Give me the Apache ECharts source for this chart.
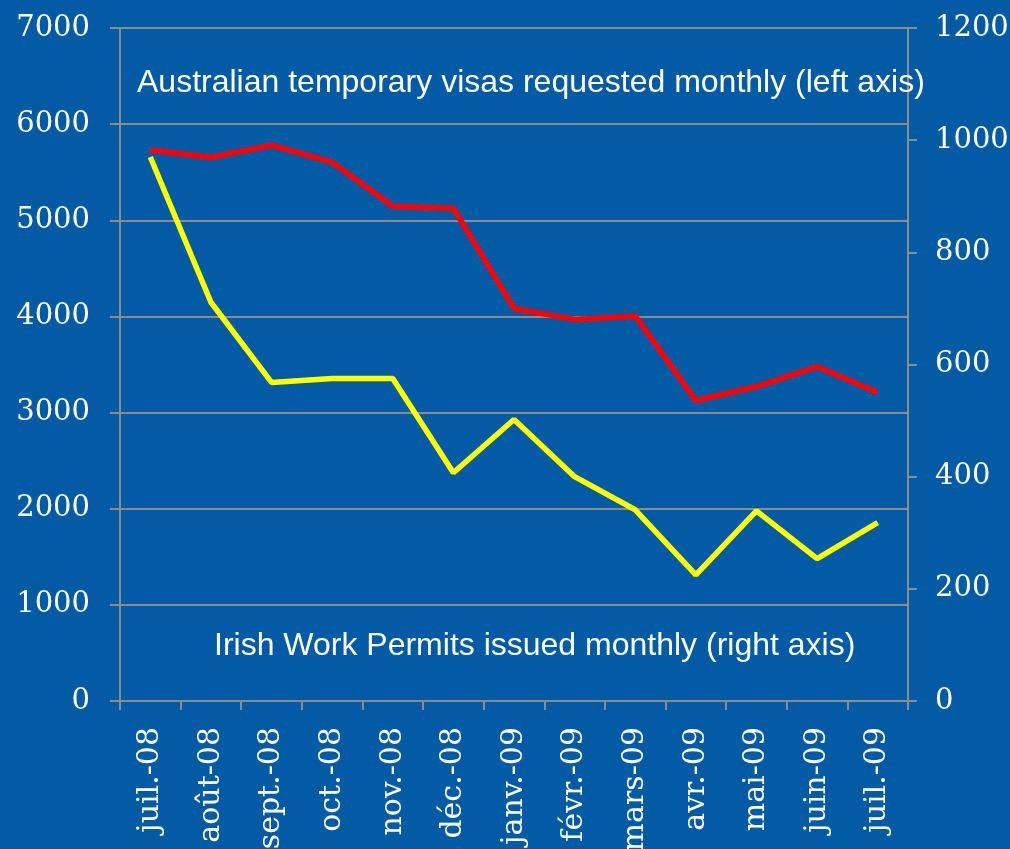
<!DOCTYPE html>
<html>
<head>
<meta charset="utf-8">
<script src="https://cdn.jsdelivr.net/npm/echarts@6/dist/echarts.min.js"></script>
<style>
html,body{margin:0;padding:0;background:#045ba5;}
#chart{width:1010px;height:849px;}
</style>
</head>
<body>
<div id="chart"></div>
<script>
var categories = ['juil.-08','août-08','sept.-08','oct.-08','nov.-08','déc.-08','janv.-09','févr.-09','mars-09','avr.-09','mai-09','juin-09','juil.-09'];
var australianVisas = [5730, 5656, 5781, 5604, 5146, 5125, 4083, 3969, 4005, 3125, 3271, 3479, 3208];
var irishPermits = [970, 711, 568, 575, 575, 407, 502, 400, 341, 225, 339, 254, 318];
var leftTicks = {min: 0, max: 7000, interval: 1000};
var rightTicks = {min: 0, max: 1200, interval: 200};
var annotationTop = 'Australian temporary visas requested monthly (left axis)';
var annotationBottom = 'Irish Work Permits issued monthly (right axis)';

var chart = echarts.init(document.getElementById('chart'));
var gridCol = '#8c8c8c';
var serif = 'DejaVu Serif';
var plain = function (v) { return String(v); };
chart.setOption({
  backgroundColor: '#045ba5',
  animation: false,
  grid: {left: 120, right: 102, top: 28, bottom: 148, containLabel: false, outerBoundsMode: 'none'},
  xAxis: {
    type: 'category',
    data: categories,
    boundaryGap: true,
    axisLine: {show: true, lineStyle: {color: gridCol, width: 2}},
    axisTick: {show: true, alignWithLabel: false, length: 9, lineStyle: {color: gridCol, width: 2}},
    axisLabel: {rotate: 90, color: '#ffffff', fontFamily: serif, fontSize: 30, margin: 26, interval: 0}
  },
  yAxis: [{
    type: 'value',
    min: leftTicks.min, max: leftTicks.max, interval: leftTicks.interval,
    position: 'left',
    axisLine: {show: true, lineStyle: {color: gridCol, width: 2}},
    axisTick: {show: true, length: 10, lineStyle: {color: gridCol, width: 2}},
    splitLine: {show: true, lineStyle: {color: gridCol, width: 2}},
    axisLabel: {color: '#ffffff', fontFamily: serif, fontSize: 29, margin: 30, formatter: plain}
  }, {
    type: 'value',
    min: rightTicks.min, max: rightTicks.max, interval: rightTicks.interval,
    position: 'right',
    axisLine: {show: true, lineStyle: {color: gridCol, width: 2}},
    axisTick: {show: true, length: 9, lineStyle: {color: gridCol, width: 2}},
    splitLine: {show: false},
    axisLabel: {color: '#ffffff', fontFamily: serif, fontSize: 29, margin: 27, formatter: plain}
  }],
  series: [{
    type: 'line',
    name: 'Australian',
    yAxisIndex: 0,
    data: australianVisas,
    symbol: 'none',
    lineStyle: {color: '#ff0000', width: 5.5},
    itemStyle: {color: '#ff0000'},
    z: 3
  }, {
    type: 'line',
    name: 'Irish',
    yAxisIndex: 1,
    data: irishPermits,
    symbol: 'none',
    lineStyle: {color: '#ffff00', width: 5.5},
    itemStyle: {color: '#ffff00'},
    z: 2
  }],
  graphic: [{
    type: 'text',
    left: 137, top: 67,
    style: {text: annotationTop, fill: '#ffffff', font: '32px "Liberation Sans", Arial, sans-serif'},
    z: 10
  }, {
    type: 'text',
    left: 214, top: 630,
    style: {text: annotationBottom, fill: '#ffffff', font: '32px "Liberation Sans", Arial, sans-serif'},
    z: 10
  }]
});
</script>
</body>
</html>
